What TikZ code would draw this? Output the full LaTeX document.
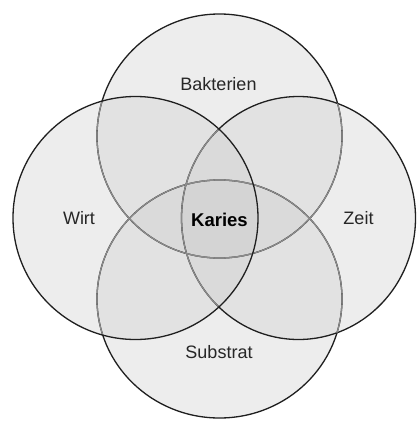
\documentclass[tikz,border=0pt]{standalone}
\usepackage{fontspec}
\setmainfont{Liberation Sans}
\definecolor{single}{gray}{0.930}
\definecolor{pair}{gray}{0.885}
\definecolor{triple}{gray}{0.855}
\definecolor{quad}{gray}{0.830}
\definecolor{darkline}{gray}{0.12}
\definecolor{softline}{gray}{0.55}
\tikzset{
  dline/.style={draw=darkline,line width=1.3pt},
  sline/.style={draw=softline,line width=1.2pt},
  lbl/.style={font=\fontsize{18}{20}\selectfont,inner sep=0pt,text=black!85},
}
\def\CT{(219.5,-136) ellipse [x radius=122.5,y radius=122]}
\def\CL{(135.5,-218) ellipse [x radius=122.5,y radius=121.5]}
\def\CR{(298.5,-218) ellipse [x radius=117,y radius=121.5]}
\def\CB{(219.5,-299) ellipse [x radius=122.5,y radius=119]}
\begin{document}
\begin{tikzpicture}[x=1pt,y=1pt]
\useasboundingbox[fill=white] (0,0) rectangle (417,-421);
% single fills
\fill[single] \CT; \fill[single] \CL; \fill[single] \CR; \fill[single] \CB;
% pair fills
\begin{scope}\clip \CT; \fill[pair] \CL; \fill[pair] \CR; \fill[pair] \CB; \end{scope}
\begin{scope}\clip \CL; \fill[pair] \CR; \fill[pair] \CB; \end{scope}
\begin{scope}\clip \CR; \fill[pair] \CB; \end{scope}
% triple fills
\begin{scope}\clip \CT; \clip \CL; \fill[triple] \CR; \fill[triple] \CB; \end{scope}
\begin{scope}\clip \CT; \clip \CR; \fill[triple] \CB; \end{scope}
\begin{scope}\clip \CL; \clip \CR; \fill[triple] \CB; \end{scope}
% quad
\begin{scope}\clip \CT; \clip \CL; \clip \CR; \fill[quad] \CB; \end{scope}
% strokes
\path[dline] \CT; \path[dline] \CB; \path[dline] \CR;
\begin{scope}\clip \CL; \path[sline] \CT; \path[sline] \CB; \path[sline] \CR; \end{scope}
\begin{scope}\clip \CR; \path[sline] \CT; \path[sline] \CB; \end{scope}
\path[dline] \CL;
% labels
\node[lbl] (bakterien) at (218.5,-84) {Bakterien};
\node[lbl] (wirt) at (79,-218) {Wirt};
\node[lbl] (zeit) at (358.5,-218) {Zeit};
\node[lbl] (substrat) at (219,-352) {Substrat};
\node[lbl,font=\fontsize{18.5}{20}\selectfont\bfseries,text=black] (karies) at (219.5,-220) {Karies};
\end{tikzpicture}
\end{document}
